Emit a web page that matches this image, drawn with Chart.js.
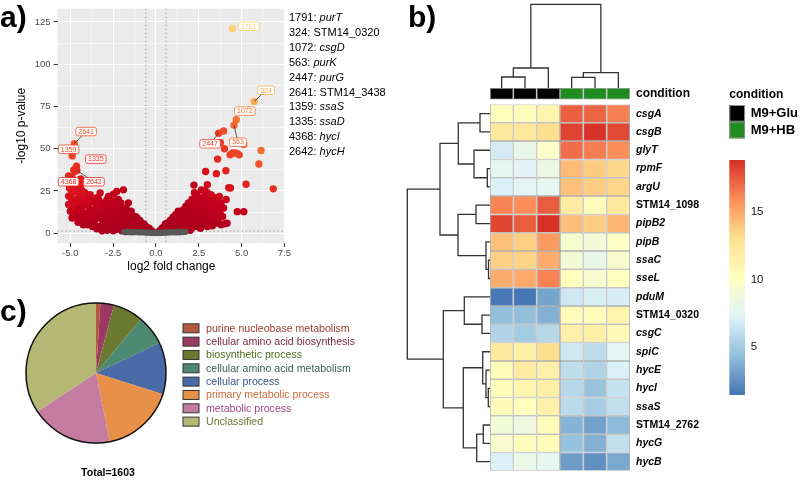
<!DOCTYPE html>
<html>
<head>
<meta charset="utf-8">
<script src="https://cdn.jsdelivr.net/npm/chart.js@4.4.1/dist/chart.umd.min.js"></script>
<style>
  body { margin: 0; width: 800px; height: 484px; position: relative; overflow: hidden; background: #fff;
         font-family: 'Liberation Sans', Arial, sans-serif; }
  canvas { position: absolute; }
  .tag { position: absolute; font-weight: bold; font-size: 30px; line-height: 30px; }
  #genes { position: absolute; left: 289px; top: 10px; font-size: 11px; line-height: 14.9px; color: #000; white-space: nowrap; }
  #total { position: absolute; left: 58px; width: 100px; top: 466px; text-align: center; font-weight: bold; font-size: 10.5px; line-height: 12px; }
</style>
</head>
<body>
<canvas id="volcano" width="292" height="276" style="left:0;top:0"></canvas>
<canvas id="heatmap" width="400" height="484" style="left:400px;top:0"></canvas>
<canvas id="pie" width="400" height="214" style="left:0;top:270px"></canvas>
<div class="tag" style="left:0;top:2px">a)</div>
<div class="tag" style="left:408px;top:2px">b)</div>
<div class="tag" style="left:0;top:296px">c)</div>
<div id="genes"></div>
<div id="total"></div>
<script>
Chart.defaults.font.family = "'Liberation Sans', Arial, sans-serif";
Chart.defaults.animation = false;

// ---------- a) volcano data ----------
const notSignificant = [[-1.85,0.9],[-1.78,0.5],[-1.7,1.0],[-1.62,0.6],[-1.55,0.9],[-1.47,0.5],[-1.4,0.8],[-1.32,0.4],
  [-1.25,0.9],[-1.17,0.6],[-1.1,0.8],[-1.02,0.4],[-0.95,0.7],[-0.87,0.5],[-0.8,0.8],[-0.72,0.4],[-0.65,0.6],[-0.57,0.3],
  [-0.5,0.5],[-0.42,0.3],[-0.35,0.4],[-0.27,0.2],[-0.2,0.3],[-0.12,0.1],[-0.05,0.05],[0.03,0.1],[0.1,0.2],[0.18,0.15],
  [0.25,0.3],[0.33,0.2],[0.4,0.4],[0.48,0.3],[0.55,0.5],[0.63,0.3],[0.7,0.6],[0.78,0.4],[0.85,0.7],[0.93,0.5],[1.0,0.8],
  [1.08,0.4],[1.15,0.7],[1.23,0.5],[1.3,0.9],[1.4,0.5],[1.5,0.8],[1.6,0.6],[1.72,0.7]];

const downRegulated = [[-5.1,22],[-5.05,26.6],[-5.0,30],[-4.95,18],[-4.9,24],[-4.85,14],[-4.8,28],[-4.8,20],[-5.0,13],[-4.9,33],
  [-4.7,25],[-4.65,12],[-4.6,30],[-4.55,18],[-4.5,22],[-4.45,9],[-4.4,27],[-4.35,15],[-4.3,20],[-4.6,10],[-4.4,32],
  [-4.2,18],[-4.15,24],[-4.1,7],[-4.05,12],[-4.0,21],[-3.95,16],[-3.9,9],[-3.84,22.8],[-3.8,13],[-4.0,5],
  [-3.7,19],[-3.65,11],[-3.6,6],[-3.45,2.7],[-3.5,15],[-3.45,21],[-3.4,9],[-3.35,13],[-3.3,17],[-3.3,4],
  [-3.26,23.8],[-3.15,11],[-3.1,7],[-3.05,15],[-3.0,3],[-2.95,18],[-2.9,9],[-2.85,13],[-2.8,5],[-2.77,21.8],
  [-2.7,16],[-2.65,11],[-2.6,7],[-2.55,3],[-2.5,19],[-2.45,13],[-2.4,9],[-2.48,23.2],[-2.3,5],[-2.3,15],[-2.29,24.7],[-2.5,1.5],
  [-2.2,12],[-2.15,17],[-2.1,8],[-2.05,4],[-2.0,14],[-1.95,10],[-1.9,25.7],[-1.85,6],[-1.8,12],[-2.0,1.5],[-2.2,20],
  [-1.7,9],[-1.65,13],[-1.61,18],[-1.55,5],[-1.5,11],[-1.45,3],[-1.4,8],[-1.35,6],[-1.3,10],[-1.6,2],
  [-1.2,7],[-1.15,4],[-1.1,9],[-1.0,5],[-0.95,2.5],[-0.93,7.5],[-0.8,4],[-0.7,5.5],[-0.6,2.5],[-0.54,3.6],[-0.45,1.5],
  [-0.4,3],[-0.3,1.8],[-0.2,1],
  [-4.75,16],[-4.25,11],[-3.75,8],[-3.55,18],[-3.2,9.5],[-3.0,11],[-2.75,8],[-2.6,13],[-2.35,11],[-2.05,9],[-1.75,15],
  [-1.9,4],[-2.85,1.8],[-3.15,1.5],[-1.25,2],[-5.05,17],[-4.55,6.5],
  [-4.95,21],[-4.7,19],[-4.5,14],[-4.3,25],[-4.15,9],[-3.95,19],[-3.85,11],[-3.6,14],[-3.5,9],[-3.35,20],[-3.1,18],
  [-3.0,7],[-2.9,16],[-2.85,20],[-2.7,4],[-2.6,17],[-2.55,9],[-2.45,6],[-2.4,16],[-2.2,8],[-2.1,13],[-2.05,18],
  [-1.95,7],[-1.85,14],[-1.8,3],[-1.7,6],[-1.55,8],[-1.45,13],[-1.35,4],[-1.2,10],[-1.1,3],[-0.85,5.5],[-0.75,2.5],
  [-0.65,4.5],[-3.7,4],[-4.25,5],[-4.9,9],[-5.1,17],[-2.35,2.2],[-1.95,2.2],
  [-4.8,37.5],[-4.75,36.5],[-4.4,32],[-4.45,30]];

const upRegulated = [[0.15,0.8],[0.25,1.8],[0.3,1],[0.35,2.8],[0.4,1.6],[0.45,3.8],[0.5,1.2],[0.55,5.5],[0.55,2.8],
  [0.65,2.2],[0.7,6.2],[0.75,4],[0.8,1.5],[0.85,7.8],[0.9,5],[0.95,3],[1.0,9.5],[1.05,6.5],[1.05,1.8],
  [1.1,4],[1.15,11],[1.2,7.5],[1.25,2.5],[1.3,13],[1.35,9],[1.4,5],[1.45,11.5],[1.5,3],[1.5,7.5],
  [1.6,14],[1.65,10],[1.7,5],[1.75,16],[1.8,12],[1.85,7.5],[1.9,18],[1.9,3.5],[1.95,14],[2.0,9.5],[2.0,5.5],
  [2.1,16],[2.15,12],[2.2,20],[2.2,7],[2.25,24],[2.3,14],[2.35,9.5],[2.4,18],[2.4,4],[2.45,11.5],[2.5,21],[2.5,15.5],
  [2.6,7],[2.65,25.7],[2.7,12],[2.75,18.5],[2.8,5.5],[2.85,22],[2.9,14],[2.9,9],[2.95,16.5],[3.0,24],[3.0,4],
  [3.1,11],[3.15,19],[3.2,7],[3.22,22.8],[3.3,14],[3.35,9],[3.4,17],[3.45,21],[3.5,12],[3.55,6],
  [3.6,16],[3.65,8.5],[3.7,21.8],[3.75,13],[3.8,18],[3.89,10],[4.02,5.6],[3.95,15],[4.1,20],[4.15,6],
  [1.7,9],[2.05,11],[2.25,17],[2.55,9],[2.7,15],[2.8,10],[3.05,13],[3.25,16],[2.35,5.5],[2.6,19],[1.95,6],[2.15,3.5],
  [0.6,4],[0.95,7],[1.2,10],[1.35,5.5],[1.55,9],[1.65,12.5],[1.8,4],[1.9,10],[2.1,5],[2.1,20],[2.3,11],[2.45,7],
  [2.55,13],[2.6,3],[2.75,9],[2.85,15.5],[3.0,19.5],[3.1,6],[3.2,13],[3.35,11],[3.5,19],[3.55,14],[3.7,10],[3.8,5],
  [2.4,23],[2.85,25],[3.3,4.5],[1.3,3.5],[2.0,1.8],[2.6,10.5],
  [2.22,28.5],[2.9,36.6],[3.0,28.7],[3.53,35.3],[4.08,37],[3.6,43.9],[4.35,26.8],[4.25,27],[4.75,12.8],[5.13,12.8],
  [5.26,29],[6.85,26.3],[6.01,41],[6.14,49],[5.13,52.5],[4.33,46.4],[4.47,47.5],[4.6,47.6],[4.72,47.3],[4.86,46.4],
  [4.0,50],[3.76,53.6],[3.95,60.5]];

const labelIds    = ['1791', '324', '1072', '563', '2447', '2641', '1359', '1335', '4368', '2642'];
const labelGenes  = ['purT', 'STM14_0320', 'csgD', 'purK', 'purG', 'STM14_3438', 'ssaS', 'ssaD', 'hycI', 'hycH'];
const labelPoints = [[4.46,121.2],[5.74,78],[4.69,67.2],[4.56,64],[3.66,59.2],[-4.77,53],[-4.89,45.8],[-4.64,39.7],[-5.1,34],[-4.62,37.2]];
const labelBoxes  = [[5.42,122.5],[6.43,84.6],[5.19,72.3],[4.79,53.9],[3.16,52.9],[-4.08,60.2],[-5.1,49.7],[-3.51,43.9],[-5.1,30.5],[-3.62,30.5]];
const labelLinked = [false, true, false, true, true, true, false, false, false, true];

const xTicks = [-5, -3.75, -2.5, -1.25, 0, 1.25, 2.5, 3.75, 5, 6.25, 7.5];
const yTicks = [0, 12.5, 25, 37.5, 50, 62.5, 75, 87.5, 100, 112.5, 125];
const foldCut = 0.585;
const pCut = 1.3;

const scoreStops = [[0,[170,0,30]],[60,[195,0,28]],[120,[222,20,30]],[200,[235,55,35]],[280,[242,100,45]],[400,[246,150,60]],[550,[252,215,120]]];
function pointColour(p) {
  const s = Math.abs(p.x) * p.y;
  for (let i = 1; i < scoreStops.length; i++) {
    if (s <= scoreStops[i][0] || i === scoreStops.length - 1) {
      const [s0, c0] = scoreStops[i - 1], [s1, c1] = scoreStops[i];
      const t = Math.min(1, Math.max(0, (s - s0) / (s1 - s0)));
      return 'rgb(' + c0.map((c, k) => Math.round(c + (c1[k] - c) * t)).join(',') + ')';
    }
  }
}
const toXY = arr => arr.map(([x, y]) => ({x, y}));
const isMajor = (v, step) => Math.abs(v / step - Math.round(v / step)) < 1e-6;

const volcanoDecor = {
  id: 'volcanoDecor',
  beforeDraw(chart) {
    const {ctx, chartArea: a} = chart;
    ctx.save();
    ctx.fillStyle = '#ebebeb';
    ctx.fillRect(a.left, a.top, a.width, a.height);
    ctx.restore();
  },
  beforeDatasetsDraw(chart) {
    const {ctx, chartArea: a, scales: {x, y}} = chart;
    ctx.save();
    ctx.strokeStyle = '#9a9a9a';
    ctx.lineWidth = 1;
    ctx.setLineDash([1.5, 2.5]);
    ctx.beginPath();
    [-foldCut, foldCut].forEach(v => {
      const px = x.getPixelForValue(v);
      ctx.moveTo(px, a.top); ctx.lineTo(px, a.bottom);
    });
    const py = y.getPixelForValue(pCut);
    ctx.moveTo(a.left, py); ctx.lineTo(a.right, py);
    ctx.stroke();
    ctx.restore();
  },
  afterDatasetsDraw(chart) {
    const {ctx, scales: {x, y}} = chart;
    ctx.save();
    ctx.font = "7px 'Liberation Sans', Arial, sans-serif";
    ctx.textAlign = 'center';
    ctx.textBaseline = 'middle';
    labelIds.forEach((id, i) => {
      const [px, py] = labelPoints[i];
      const [bx, by] = labelBoxes[i];
      const col = pointColour({x: px, y: py});
      const cx = x.getPixelForValue(bx), cy = y.getPixelForValue(by);
      if (labelLinked[i]) {
        ctx.strokeStyle = '#333';
        ctx.lineWidth = 0.8;
        ctx.beginPath();
        ctx.moveTo(x.getPixelForValue(px), y.getPixelForValue(py));
        ctx.lineTo(cx, cy);
        ctx.stroke();
      }
      const w = ctx.measureText(id).width + 5, h = 8.5;
      ctx.beginPath();
      ctx.roundRect(cx - w / 2, cy - h / 2, w, h, 2);
      ctx.fillStyle = '#fff';
      ctx.fill();
      ctx.strokeStyle = col;
      ctx.lineWidth = 0.8;
      ctx.stroke();
      ctx.fillStyle = col;
      ctx.fillText(id, cx, cy + 0.3);
    });
    ctx.restore();
  }
};

new Chart(document.getElementById('volcano'), {
  type: 'scatter',
  data: {
    datasets: [
      {data: toXY(notSignificant), backgroundColor: '#595959', pointRadius: 3, borderWidth: 0},
      {data: toXY(downRegulated), backgroundColor: c => pointColour(c.raw), pointRadius: 3.7, borderWidth: 0},
      {data: toXY(upRegulated), backgroundColor: c => pointColour(c.raw), pointRadius: 3.7, borderWidth: 0},
      {data: toXY(labelPoints), backgroundColor: c => pointColour(c.raw), pointRadius: 3.7, borderWidth: 0}
    ]
  },
  options: {
    responsive: false,
    layout: {padding: {left: 0, right: 3.5, top: 2, bottom: 1}},
    plugins: {legend: {display: false}, tooltip: {enabled: false}},
    scales: {
      x: {
        type: 'linear', min: -5.75, max: 7.55,
        afterBuildTicks: s => { s.ticks = xTicks.map(v => ({value: v})); },
        afterFit: s => { s.height = 32; },
        ticks: {autoSkip: false, maxRotation: 0, padding: 1, color: '#4d4d4d', font: {size: 9.5},
                callback: v => isMajor(v, 2.5) ? v.toFixed(1) : ''},
        grid: {color: '#fff', lineWidth: c => isMajor(c.tick.value, 2.5) ? 1.1 : 0.5,
               tickColor: c => isMajor(c.tick.value, 2.5) ? '#333' : 'rgba(0,0,0,0)', tickWidth: 1, tickLength: 4},
        border: {display: false},
        title: {display: true, text: 'log2 fold change', color: '#000', font: {size: 12}, padding: {top: 0, bottom: 1.1}}
      },
      y: {
        type: 'linear', min: -5.75, max: 132.9,
        afterBuildTicks: s => { s.ticks = yTicks.map(v => ({value: v})); },
        afterFit: s => { s.width = 57.5; },
        ticks: {autoSkip: false, padding: 3, color: '#4d4d4d', font: {size: 9.5},
                callback: v => isMajor(v, 25) ? String(v) : ''},
        grid: {color: '#fff', lineWidth: c => isMajor(c.tick.value, 25) ? 1.1 : 0.5,
               tickColor: c => isMajor(c.tick.value, 25) ? '#333' : 'rgba(0,0,0,0)', tickWidth: 1, tickLength: 4},
        border: {display: false},
        title: {display: true, text: '-log10 p-value', color: '#000', font: {size: 12}, padding: {top: 14.8, bottom: 0}}
      }
    }
  },
  plugins: [volcanoDecor]
});

document.getElementById('genes').innerHTML = labelIds.map((id, i) =>
  id + ': ' + (labelGenes[i].startsWith('STM14') ? labelGenes[i] : '<i>' + labelGenes[i] + '</i>')).join('<br>');

// ---------- b) heatmap data ----------
const samples = ['Glu1', 'Glu2', 'Glu3', 'HB1', 'HB2', 'HB3'];
const sampleCondition = ['M9+Glu', 'M9+Glu', 'M9+Glu', 'M9+HB', 'M9+HB', 'M9+HB'];
const conditionColours = {'M9+Glu': '#000000', 'M9+HB': '#1e8c1e'};
const genes = ['csgA', 'csgB', 'glyT', 'rpmF', 'argU', 'STM14_1098', 'pipB2', 'pipB', 'ssaC', 'sseL',
               'pduM', 'STM14_0320', 'csgC', 'spiC', 'hycE', 'hycI', 'ssaS', 'STM14_2762', 'hycG', 'hycB'];
const expression = [
  [10.3, 10.4, 11.2, 17.3, 17.2, 16.3],
  [12.3, 12.3, 13.1, 18.2, 18.7, 18.0],
  [6.8, 8.0, 9.7, 16.9, 16.4, 15.9],
  [7.7, 7.3, 8.3, 14.3, 13.8, 13.3],
  [7.1, 7.5, 7.7, 14.1, 13.7, 13.4],
  [16.2, 15.9, 17.4, 12.0, 10.4, 12.3],
  [18.1, 17.4, 18.8, 14.2, 13.7, 14.6],
  [14.1, 13.6, 15.5, 9.3, 8.9, 9.9],
  [13.6, 13.5, 14.9, 9.0, 8.0, 9.4],
  [14.8, 14.9, 16.2, 10.3, 9.3, 10.2],
  [1.6, 1.5, 3.3, 6.6, 7.0, 6.9],
  [4.4, 4.4, 3.8, 10.4, 10.5, 11.2],
  [5.5, 5.0, 5.7, 11.5, 11.6, 10.6],
  [12.2, 11.6, 13.1, 6.6, 6.0, 7.5],
  [10.5, 12.0, 11.5, 6.0, 5.5, 7.1],
  [10.5, 11.1, 11.6, 5.7, 4.6, 6.3],
  [10.6, 10.3, 11.4, 5.9, 5.1, 6.1],
  [8.9, 8.5, 10.4, 3.9, 3.2, 4.2],
  [9.5, 10.4, 10.5, 4.5, 3.8, 6.1],
  [7.1, 8.1, 7.7, 3.0, 2.5, 3.5]
];
// hclust-style merges: negative = leaf (1-based), positive = earlier merge; third value = height
const rowMerges = [[-9,-10,1.5],[-16,-17,1.7],[-4,-5,2.7],[-8,1,4],[-15,2,4],[-18,-19,6.7],[-14,5,7.3],[-12,-13,8],
  [-1,-2,10],[-20,6,13.3],[-6,-7,14],[-3,3,16],[-11,8,25.7],[7,10,26.7],[9,12,31.7],[11,4,32],[13,14,46.7],[15,16,50],[18,17,82.7]];
const colMerges = [[-4,-5,10.7],[-1,-2,11],[1,-6,15.3],[2,-3,20],[4,3,83.7]];
const heatPalette = ['#4575B4', '#91BFDB', '#E0F3F8', '#FFFFBF', '#FEE090', '#FC8D59', '#D73027'];
const heatMin = 1.47, heatMax = 18.8;
const colourBarTicks = [5, 10, 15];
const rowLabels = ['condition'].concat(genes);

function hexRgb(h) { return [1, 3, 5].map(i => parseInt(h.substr(i, 2), 16)); }
function heatColour(v) {
  const t = Math.min(1, Math.max(0, (v - heatMin) / (heatMax - heatMin))) * (heatPalette.length - 1);
  const i = Math.min(Math.floor(t), heatPalette.length - 2), f = t - i;
  const a = hexRgb(heatPalette[i]), b = hexRgb(heatPalette[i + 1]);
  return 'rgb(' + a.map((c, k) => Math.round(c + (b[k] - c) * f)).join(',') + ')';
}
function rowFont(c) {
  const name = rowLabels[c.index];
  if (!name || name === 'condition') return {size: 12, weight: 'bold'};
  return {size: 10.5, weight: 'bold', style: name.startsWith('STM14') ? 'normal' : 'italic'};
}

function drawTree(ctx, merges, leafPos, base, size, vertical) {
  const maxH = Math.max(...merges.map(m => m[2]));
  const nodes = [];
  const node = r => r < 0 ? {pos: leafPos(-r - 1), h: 0} : nodes[r - 1];
  const at = (pos, h) => vertical ? [pos, base - h * size / maxH] : [base - h * size / maxH, pos];
  ctx.beginPath();
  merges.forEach(([a, b, h]) => {
    const A = node(a), B = node(b);
    ctx.moveTo(...at(A.pos, A.h));
    ctx.lineTo(...at(A.pos, h));
    ctx.lineTo(...at(B.pos, h));
    ctx.lineTo(...at(B.pos, B.h));
    nodes.push({pos: (A.pos + B.pos) / 2, h});
  });
  ctx.stroke();
}

const heatDecor = {
  id: 'heatDecor',
  afterDraw(chart) {
    const {ctx, chartArea: a, scales: {x, y}} = chart;
    ctx.save();
    ctx.strokeStyle = '#333';
    ctx.lineWidth = 1.3;
    drawTree(ctx, rowMerges, i => y.getPixelForValue(i + 0.5), a.left, 82.7, false);
    drawTree(ctx, colMerges, j => x.getPixelForValue(j), a.top, 83.7, true);

    // condition legend
    const lx = 329.3;
    ctx.fillStyle = '#000';
    ctx.textBaseline = 'middle';
    ctx.textAlign = 'left';
    ctx.font = "bold 12px 'Liberation Sans', Arial, sans-serif";
    ctx.fillText('condition', lx, 95);
    ctx.font = "bold 13px 'Liberation Sans', Arial, sans-serif";
    Object.keys(conditionColours).forEach((c, i) => {
      const top = 105 + i * 16.7;
      ctx.fillStyle = conditionColours[c];
      ctx.fillRect(lx, top, 15.7, 16.7);
      ctx.strokeStyle = '#8c8c8c';
      ctx.lineWidth = 1;
      ctx.strokeRect(lx + 0.5, top + 0.5, 14.7, 15.7);
      ctx.fillStyle = '#000';
      ctx.fillText(c, lx + 21.4, top + 8.5);
    });

    // colour bar
    const barTop = 160, barBottom = 395;
    const grad = ctx.createLinearGradient(0, barBottom, 0, barTop);
    heatPalette.forEach((c, i) => grad.addColorStop(i / (heatPalette.length - 1), c));
    ctx.fillStyle = grad;
    ctx.fillRect(lx, barTop, 15.7, barBottom - barTop);
    ctx.fillStyle = '#222';
    ctx.font = "11.5px 'Liberation Sans', Arial, sans-serif";
    colourBarTicks.forEach(v => {
      const py = barTop + (heatMax - v) / (heatMax - heatMin) * (barBottom - barTop);
      ctx.fillText(String(v), lx + 21.4, py);
    });
    ctx.restore();
  }
};

const heatDatasets = [{
  label: 'condition',
  data: samples.map(() => [-0.9, -0.27]),
  backgroundColor: sampleCondition.map(c => conditionColours[c]),
  borderColor: '#8c8c8c'
}].concat(genes.map((g, i) => ({
  label: g,
  data: samples.map(() => [i, i + 1]),
  backgroundColor: expression[i].map(heatColour),
  borderColor: '#999999'
})));

new Chart(document.getElementById('heatmap'), {
  type: 'bar',
  data: {labels: samples, datasets: heatDatasets},
  options: {
    responsive: false,
    layout: {padding: {left: 90, top: 88, bottom: 2, right: 0}},
    datasets: {bar: {grouped: false, barPercentage: 1, categoryPercentage: 1, borderSkipped: false,
                     borderWidth: 0.75, inflateAmount: 0}},
    plugins: {legend: {display: false}, tooltip: {enabled: false}},
    scales: {
      x: {display: false},
      y: {
        type: 'linear', min: -0.9, max: 20, reverse: true, position: 'right',
        afterFit: s => { s.width = 170; },
        afterBuildTicks: s => { s.ticks = [-0.585].concat(genes.map((g, i) => i + 0.5)).map(v => ({value: v})); },
        ticks: {
          autoSkip: false, padding: 6, color: '#000',
          callback: (v, i) => rowLabels[i],
          font: rowFont
        },
        grid: {display: false, drawTicks: false},
        border: {display: false}
      }
    }
  },
  plugins: [heatDecor]
});

// ---------- c) pie data ----------
const goTerms = ['purine nucleobase metabolism', 'cellular amino acid biosynthesis', 'biosynthetic process',
                 'cellular amino acid metabolism', 'cellular process', 'primary metabolic process',
                 'metabolic process', 'Unclassified'];
const goCounts = [16, 50, 112, 110, 191, 272, 303, 549];
const sliceColours = ['#b45a3c', '#9c3a62', '#6b7a30', '#4d8870', '#4a6aa6', '#e89048', '#c47ca0', '#b5b775'];
const termTextColours = ['#9a3c2c', '#7a2a48', '#556b20', '#3a6050', '#3a5580', '#c86a3c', '#a04a7a', '#6b7a30'];

document.getElementById('total').textContent = 'Total=' + goCounts.reduce((s, v) => s + v, 0);

// pie outline plus a term legend laid out beside it
const pieDecor = {
  id: 'pieDecor',
  afterDatasetsDraw(chart) {
    const arc = chart.getDatasetMeta(0).data[0];
    const {ctx} = chart;
    ctx.save();
    ctx.strokeStyle = '#111';
    ctx.lineWidth = 1.5;
    ctx.beginPath();
    ctx.arc(arc.x, arc.y, arc.outerRadius, 0, Math.PI * 2);
    ctx.stroke();

    const boxX = 183, textX = 206, firstY = 58.3, step = 13.33;
    ctx.font = "10.6px 'Liberation Sans', Arial, sans-serif";
    ctx.textBaseline = 'middle';
    ctx.textAlign = 'left';
    chart.data.labels.forEach((t, i) => {
      const cy = firstY + i * step;
      ctx.fillStyle = sliceColours[i];
      ctx.fillRect(boxX, cy - 4.5, 16, 9);
      ctx.strokeStyle = '#333';
      ctx.lineWidth = 1;
      ctx.strokeRect(boxX, cy - 4.5, 16, 9);
      ctx.fillStyle = termTextColours[i];
      ctx.fillText(t, textX, cy + 0.5);
    });
    ctx.restore();
  }
};

new Chart(document.getElementById('pie'), {
  type: 'pie',
  data: {labels: goTerms, datasets: [{data: goCounts, backgroundColor: sliceColours, borderWidth: 0}]},
  options: {
    responsive: false,
    layout: {padding: {left: 26, right: 234, top: 33, bottom: 41}},
    plugins: {tooltip: {enabled: false}, legend: {display: false}}
  },
  plugins: [pieDecor]
});
</script>
</body>
</html>
